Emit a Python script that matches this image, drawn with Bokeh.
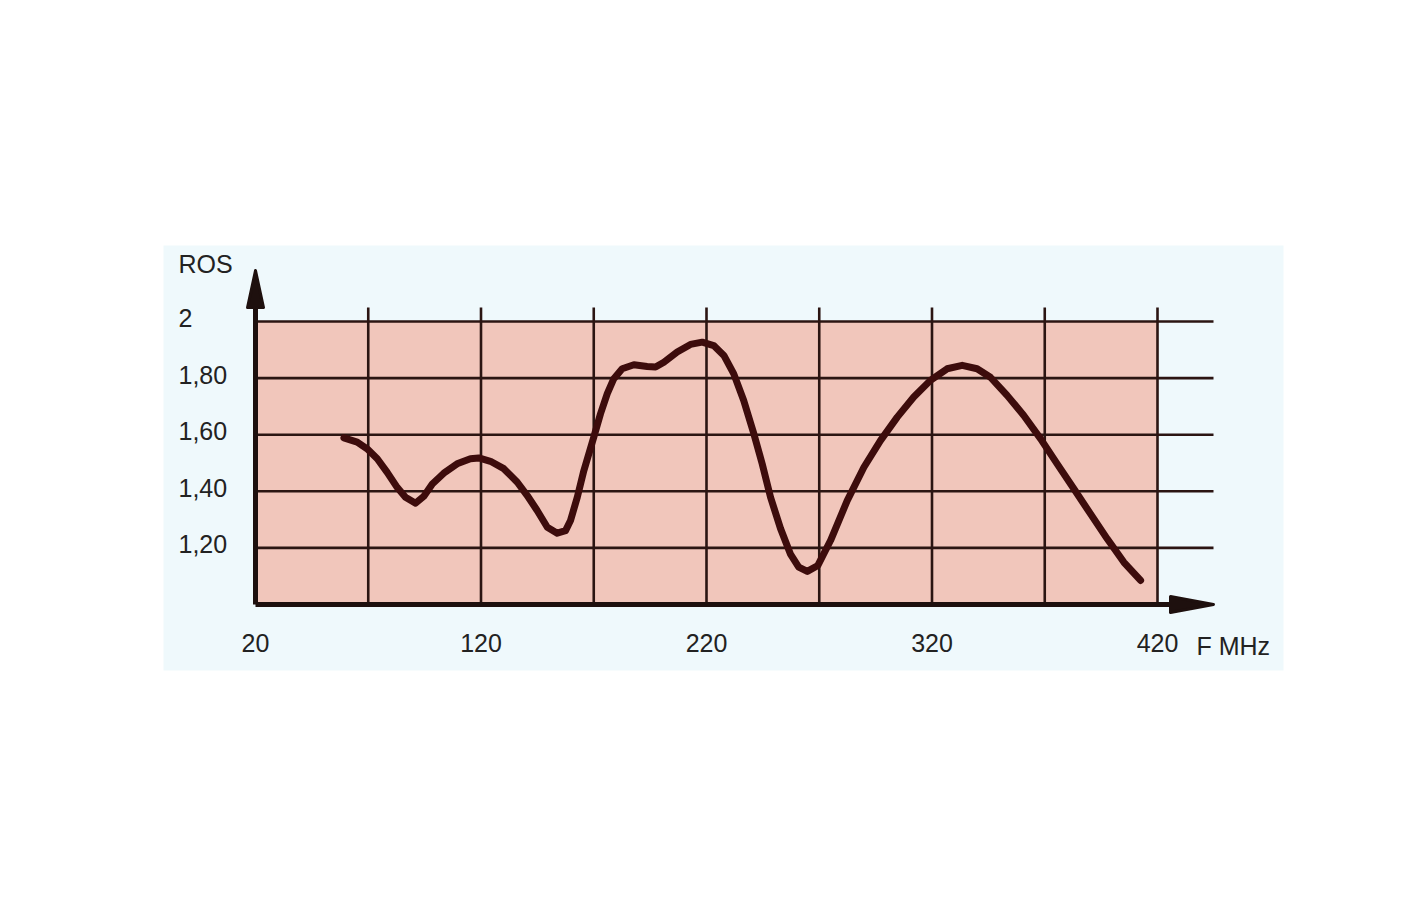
from bokeh.plotting import figure
from bokeh.models import Range1d
from bokeh.core.properties import value
from bokeh.embed import file_html
from bokeh.resources import INLINE

# ---- data ----
freq_mhz = [59.2, 65.1, 69.5, 74.0, 78.4, 82.8, 86.5, 91.0, 94.6, 98.4,
            103.5, 109.4, 115.3, 119.0, 124.2, 130.1, 136.1, 140.5, 144.9, 149.4,
            153.8, 157.5, 159.7, 162.7, 165.6, 170.0, 173.0, 176.0, 178.9, 182.6,
            187.8, 193.7, 197.4, 201.1, 207.0, 212.9, 218.1, 223.2, 227.7, 232.1,
            236.5, 241.0, 244.7, 248.4, 252.8, 257.3, 260.9, 264.7, 269.4, 275.0,
            282.4, 289.8, 297.2, 304.6, 311.9, 319.3, 326.7, 333.4, 340.0, 345.9,
            353.3, 360.7, 368.1, 375.5, 382.9, 390.3, 397.7, 405.1, 412.5]
ros_values = [1.589, 1.574, 1.550, 1.515, 1.467, 1.414, 1.379, 1.358, 1.382, 1.426,
              1.464, 1.497, 1.515, 1.518, 1.506, 1.480, 1.432, 1.385, 1.332, 1.273,
              1.252, 1.261, 1.297, 1.379, 1.473, 1.591, 1.674, 1.745, 1.798, 1.833,
              1.847, 1.841, 1.839, 1.856, 1.892, 1.919, 1.927, 1.915, 1.880, 1.815,
              1.721, 1.603, 1.497, 1.379, 1.269, 1.177, 1.132, 1.117, 1.138, 1.226,
              1.367, 1.485, 1.580, 1.662, 1.733, 1.792, 1.833, 1.845, 1.833, 1.803,
              1.739, 1.668, 1.586, 1.497, 1.409, 1.320, 1.232, 1.149, 1.085]

x_grid = [70, 120, 170, 220, 270, 320, 370, 420]
x_ticks = [20, 120, 220, 320, 420]
x_tick_labels = ["20", "120", "220", "320", "420"]
y_grid = [1.2, 1.4, 1.6, 1.8, 2.0]
y_ticks = [2.0, 1.8, 1.6, 1.4, 1.2]
y_tick_labels = ["2", "1,80", "1,60", "1,40", "1,20"]
x_min, x_max = 20, 420
y_min, y_max = 1.0, 2.0
y_title = "ROS"
x_title = "F MHz"

# ---- layout (page pixels) ----
W, H = 1395, 894
PX_LEFT, PX_RIGHT = 255, 1157      # px of x_min, x_max
PY_TOP, PY_BOT = 321, 604          # px of y_max, y_min
sx = (PX_RIGHT - PX_LEFT) / (x_max - x_min)
sy = (PY_BOT - PY_TOP) / (y_max - y_min)
x0 = x_min - PX_LEFT / sx
y1 = y_max + PY_TOP / sy

def fx(px):  # pixel -> data x
    return x0 + px / sx

def fy(py):  # pixel (from top) -> data y
    return y1 - py / sy

p = figure(width=W, height=H, output_backend="svg", toolbar_location=None,
           x_axis_location=None, y_axis_location=None, min_border=0,
           x_range=Range1d(x0, x0 + W / sx), y_range=Range1d(y1 - H / sy, y1))
p.outline_line_color = None
p.xgrid.visible = False
p.ygrid.visible = False
p.background_fill_color = "white"
p.border_fill_color = "white"

ink = "#2b1512"
axis_ink = "#1e100e"
font = value("Liberation Sans")
fs = "25px"

# light panel
p.quad(left=fx(163), right=fx(1283), top=fy(245), bottom=fy(670),
       fill_color="#eff9fc", line_color=None)
# pink plot area
p.quad(left=x_min, right=x_max, top=y_max, bottom=y_min,
       fill_color="#f1c6bb", line_color=None)

# grid
top_ext = fy(PY_TOP - 14)
right_ext = fx(1213)
p.segment(x0=x_grid, y0=[y_min] * len(x_grid), x1=x_grid, y1=[top_ext] * len(x_grid),
          line_color=ink, line_width=2.6)
p.segment(x0=[x_min] * len(y_grid), y0=y_grid, x1=[right_ext] * len(y_grid), y1=y_grid,
          line_color=ink, line_width=2.6)

# axes with arrows
p.segment(x0=[x_min], y0=[y_min], x1=[x_min], y1=[fy(298)], line_color=axis_ink, line_width=5)
p.segment(x0=[x_min], y0=[y_min], x1=[fx(1178)], y1=[y_min], line_color=axis_ink, line_width=5)
p.patch(x=[x_min - 8 / sx, x_min, x_min + 8 / sx], y=[fy(307), fy(270), fy(307)],
        fill_color=axis_ink, line_color=axis_ink, line_width=3, line_join="round")
p.patch(x=[fx(1170), fx(1213), fx(1170)], y=[y_min + 8 / sy, y_min, y_min - 8 / sy],
        fill_color=axis_ink, line_color=axis_ink, line_width=3, line_join="round")

# curve
p.line(freq_mhz, ros_values, line_color="#3d0c0c", line_width=7,
       line_join="round", line_cap="round")

# labels
lab_x = fx(178)
p.text(x=[lab_x] * len(y_ticks), y=[t + 3.5 / sy for t in y_ticks], text=y_tick_labels,
       text_font=font, text_font_size=fs, text_color="#222222",
       text_align="left", text_baseline="middle")
p.text(x=[lab_x], y=[fy(263)], text=[y_title],
       text_font=font, text_font_size=fs, text_color="#222222",
       text_align="left", text_baseline="middle")
p.text(x=x_ticks, y=[fy(642)] * len(x_ticks), text=x_tick_labels,
       text_font=font, text_font_size=fs, text_color="#222222",
       text_align="center", text_baseline="middle")
p.text(x=[fx(1196)], y=[fy(645)], text=[x_title],
       text_font=font, text_font_size=fs, text_color="#222222",
       text_align="left", text_baseline="middle")

open("out.html", "w").write(file_html(p, INLINE))
